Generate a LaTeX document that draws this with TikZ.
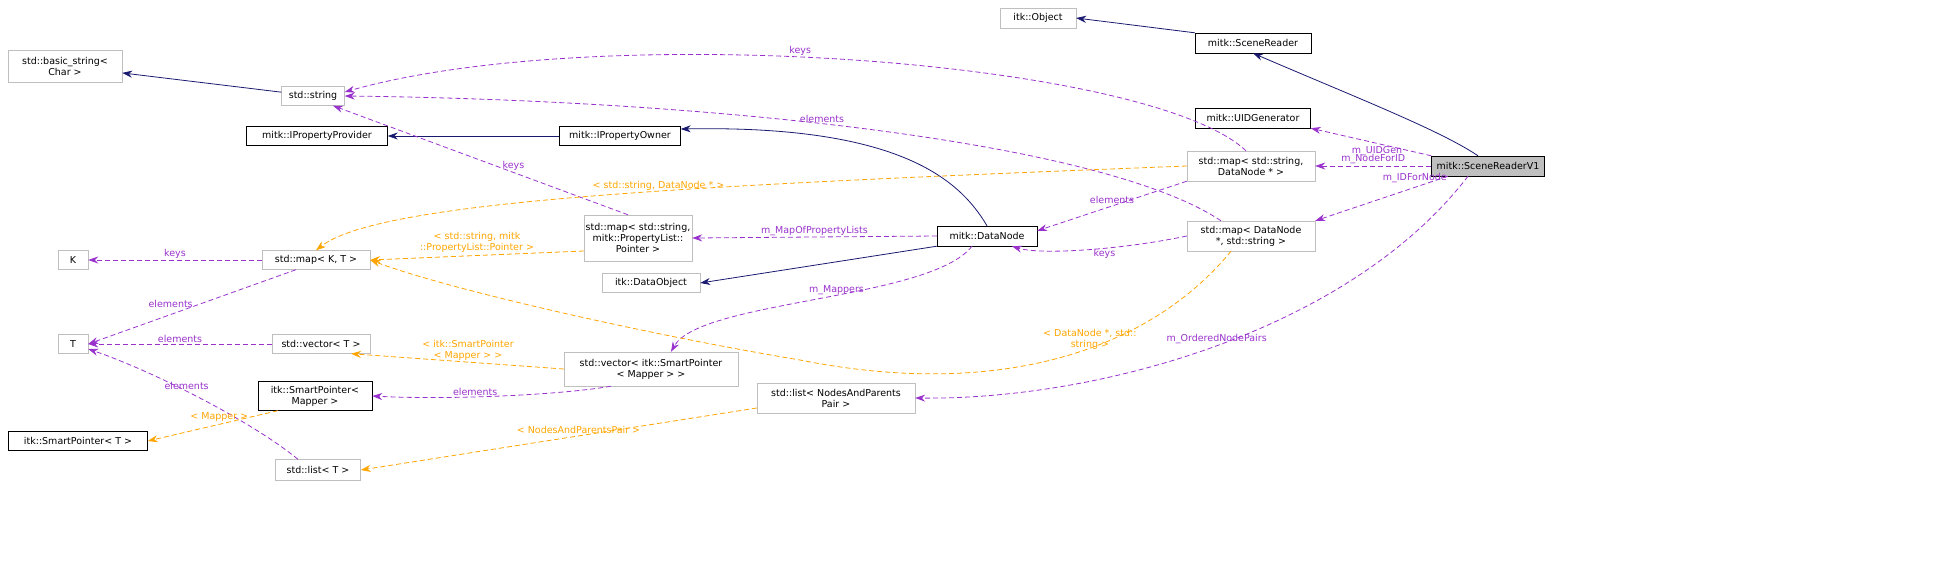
\documentclass[tikz,border=0pt]{standalone}
\usepackage{fontspec}
\setmainfont{DejaVu Sans}
\usetikzlibrary{arrows.meta,calc}
\definecolor{navy}{RGB}{25,25,112}
\definecolor{dep}{RGB}{153,50,204}
\definecolor{tmpl}{RGB}{255,165,0}
\definecolor{boxgray}{RGB}{191,191,191}
\tikzset{
  cls/.style={draw=boxgray,align=center,inner sep=1pt,font=\fontsize{9.5}{11}\selectfont},
  sel/.style={cls,draw=black},
  cur/.style={cls,draw=black,fill=boxgray},
  inh/.style={navy,thick,-{Stealth[length=10pt,width=7pt]}},
  use/.style={dep,thick,dash pattern=on 5pt off 3pt,-{Stealth[length=10pt,width=7pt]}},
  tpl/.style={tmpl,thick,dash pattern=on 5pt off 3pt,-{Stealth[length=10pt,width=7pt]}},
  lbl/.style={font=\fontsize{9.5}{11}\selectfont,align=center,inner sep=1pt}
}
\begin{document}
\begin{tikzpicture}[x=1pt,y=-1pt]
\useasboundingbox (0,0) rectangle (1952,571);
            % classes
            \node[cls,minimum width=76,minimum height=20](obj) at (1038,18) {itk::Object};
            \node[sel,minimum width=116,minimum height=20](sr) at (1253,43) {mitk::SceneReader};
            \node[sel,minimum width=115,minimum height=20](uid) at (1253,118) {mitk::UIDGenerator};
            \node[cls,minimum width=128,minimum height=30](msd) at (1251,166) {std::map\textless{} std::string,\\DataNode * \textgreater};
            \node[cur,minimum width=113,minimum height=20](v1) at (1488,166) {mitk::SceneReaderV1};
            \node[cls,minimum width=128,minimum height=30](mds) at (1251,236) {std::map\textless{} DataNode\\*, std::string \textgreater};
            \node[cls,minimum width=158,minimum height=30](lnp) at (836,398) {std::list\textless{} NodesAndParents\\Pair \textgreater};
            \node[cls,minimum width=114,minimum height=32](bstr) at (65,66) {std::basic\_string\textless\\Char \textgreater};
            \node[cls,minimum width=63,minimum height=19](str) at (313,96) {std::string};
            \node[sel,minimum width=141,minimum height=19](ipp) at (317,136) {mitk::IPropertyProvider};
            \node[sel,minimum width=121,minimum height=19](ipo) at (620,136) {mitk::IPropertyOwner};
            \node[sel,minimum width=100,minimum height=20](dn) at (987,236) {mitk::DataNode};
            \node[cls,minimum width=108,minimum height=46](mpl) at (638,238) {std::map\textless{} std::string,\\mitk::PropertyList::\\Pointer \textgreater};
            \node[cls,minimum width=30,minimum height=19](k) at (73,260) {K};
            \node[cls,minimum width=108,minimum height=19](mkt) at (316,260) {std::map\textless{} K, T \textgreater};
            \node[cls,minimum width=98,minimum height=19](dobj) at (651,283) {itk::DataObject};
            \node[cls,minimum width=30,minimum height=19](t) at (73,344) {T};
            \node[cls,minimum width=98,minimum height=19](vt) at (321,344) {std::vector\textless{} T \textgreater};
            \node[cls,minimum width=174,minimum height=34](vsp) at (651,369) {std::vector\textless{} itk::SmartPointer\\\textless{} Mapper \textgreater{} \textgreater};
            \node[sel,minimum width=114,minimum height=29](spm) at (315,396) {itk::SmartPointer\textless\\Mapper \textgreater};
            \node[sel,minimum width=139,minimum height=19](spt) at (78,441) {itk::SmartPointer\textless{} T \textgreater};
            \node[cls,minimum width=85,minimum height=21](lt) at (318,470) {std::list\textless{} T \textgreater};

            % inheritance
            \draw[inh] (sr.north west) -- (obj.east);
            \draw[inh] ($(v1.north)+(-10,0)$) .. controls (1440,130) and (1350,95) .. (sr.south);
            \draw[inh] (str) -- (bstr);
            \draw[inh] (ipo) -- (ipp);
            \draw[inh] (dn.north) .. controls (960,180) and (900,125) .. ($(ipo.east)+(0,-7)$);
            \draw[inh] (dn.south west) -- (dobj.east);

            % members
            \draw[use] (v1.north west) -- node[lbl,pos=0.45,below=2pt]{m\_UIDGen} (uid.south east);
            \draw[use] (v1) -- node[lbl,above=1pt]{m\_NodeForID} (msd);
            \draw[use] ($(v1.south)+(-40,0)$) -- node[lbl,pos=0.25,above=3pt]{m\_IDForNode} (mds.north east);
            \draw[use] ($(v1.south)+(-20,0)$) .. controls (1350,330) and (1100,400) .. node[lbl,pos=0.5,above]{m\_OrderedNodePairs} (lnp.east);
            \draw[use] ($(msd.north)+(-5,0)$) .. controls (1150,60) and (600,20) .. node[lbl,pos=0.55,above]{keys} ($(str.east)+(0,-4)$);
            \draw[use] ($(mds.north)+(-30,0)$) .. controls (1100,140) and (700,100) .. node[lbl,pos=0.55,above]{elements} (str.east);
            \draw[use] ($(mpl.north)+(-10,0)$) -- node[lbl,pos=0.45,right=6pt]{keys} ($(str.south)+(20,0)$);
            \draw[use] (msd.south west) -- node[lbl,pos=0.5,above=1pt]{elements} ($(dn.north east)+(0,5)$);
            \draw[use] (mds.west) .. controls (1120,250) and (1040,255) .. node[lbl,pos=0.4,below]{keys} ($(dn.south)+(25,0)$);
            \draw[use] (dn.west) -- node[lbl,above]{m\_MapOfPropertyLists} (mpl.east);
            \draw[use] ($(dn.south)+(-15,0)$) .. controls (930,300) and (700,300) .. node[lbl,pos=0.45,above]{m\_Mappers} ($(vsp.north)+(20,0)$);
            \draw[use] (mkt) -- node[lbl,above]{keys} (k);
            \draw[use] ($(mkt.south)+(-20,0)$) -- node[lbl,pos=0.5,above left=-2pt]{elements} (t.east);
            \draw[use] (vt) -- node[lbl,above]{elements} (t);
            \draw[use] ($(lt.north)+(-20,0)$) .. controls (250,420) and (150,370) .. node[lbl,pos=0.55,above]{elements} ($(t.east)+(0,5)$);
            \draw[use] ($(vsp.south)+(-40,0)$) .. controls (560,395) and (450,400) .. node[lbl,pos=0.6,above]{elements} (spm.east);

            % template instances
            \draw[tpl] (msd.west) .. controls (700,185) and (380,200) .. node[lbl,pos=0.43,above]{\textless{} std::string, DataNode * \textgreater} (mkt.north);
            \draw[tpl] ($(mds.south)+(-20,0)$) .. controls (1150,350) and (1000,400) .. node[lbl,pos=0.3,below left=2pt]{\textless{} DataNode *, std::\\string \textgreater} (800,360) .. controls (650,335) and (450,290) .. (mkt.east);
            \draw[tpl] ($(mpl.west)+(0,13)$) -- node[lbl,pos=0.5,above=2pt]{\textless{} std::string, mitk\\::PropertyList::Pointer \textgreater} (mkt.east);
            \draw[tpl] (vsp.west) -- node[lbl,pos=0.45,above]{\textless{} itk::SmartPointer\\\textless{} Mapper \textgreater{} \textgreater} ($(vt.south)+(30,0)$);
            \draw[tpl] ($(spm.south west)+(20,0)$) -- node[lbl,pos=0.45,above=1pt]{\textless{} Mapper \textgreater} (spt.east);
            \draw[tpl] ($(lnp.west)+(0,10)$) -- node[lbl,pos=0.45,above=1pt]{\textless{} NodesAndParentsPair \textgreater} (lt.east);
          \end{tikzpicture}
\end{document}
